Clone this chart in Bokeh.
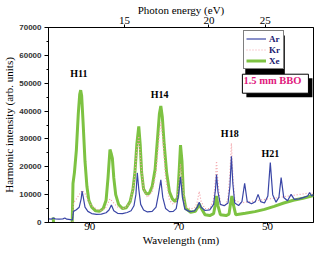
import numpy as np
from bokeh.plotting import figure
from bokeh.models import (Range1d, LinearAxis, FixedTicker, SingleIntervalTicker,
                          Legend, LegendItem, Label, BasicTickFormatter)
from bokeh.embed import file_html
from bokeh.resources import INLINE

NaN = float("nan")

# ---- data (wavelength in nm, intensity in arb. units) ----
ar_wl = [99.29, 98.64, 98.21, 97.78, 96.91, 96.05, 95.61, 95.18, 94.32, 93.89, 93.67, 93.02, 92.38, 91.94,
         91.73, 91.51, 91.08, 90.43, 89.57, 88.49, 87.41, 86.33, 85.68, 85.14, 84.60, 83.74, 82.66, 81.58,
         80.71, 80.06, 79.63, 79.31, 78.98, 78.55, 77.90, 77.04, 75.96, 75.10, 74.56, 74.02, 73.58, 72.94,
         72.07, 71.21, 70.56, 70.02, 69.59, 69.16, 68.62, 67.53, 66.45, 65.81, 65.38, 64.95, 64.08, 63.01,
         62.14, 61.71, 61.49, 61.16, 60.62, 59.76, 58.90, 58.47, 58.14, 57.82, 57.39, 56.52, 55.77, 55.16,
         54.58, 53.61, 52.74, 52.14, 51.56, 50.69, 49.94, 49.39, 48.85, 48.10, 47.45, 46.95, 46.37, 45.51,
         44.71, 43.99, 42.92, 41.84, 40.97, 40.54, 40.10, 39.67]
ar_int = [1300, 1200, 1600, 1300, 1200, 1300, 1600, 1200, 1000, 900, 4000, 4600, 5500, 8500,
          11300, 9500, 5500, 4000, 3200, 2900, 3000, 3500, 4500, 6300, 4200, 3300, 3200, 3600,
          4200, 6000, 10000, 17800, 12000, 6500, 4500, 3800, 4000, 5500, 10000, 15300, 9000, 5000,
          3900, 4000, 5000, 10000, 16400, 9000, 4800, 3900, 4200, 5500, 7300, 5500, 4300, 4500,
          6500, 12000, 17200, 11000, 6500, 6000, 7000, 13000, 23800, 14000, 7000, 6100, 7500, 14100,
          7500, 6700, 7500, 10100, 7500, 7000, 9500, 21500, 10000, 7300, 9000, 16100, 9000, 7800,
          10100, 8300, 8500, 9000, 9500, 10800, 9500, 10100]

kr_wl = [93.89, 93.67, 93.02, 92.38, 91.73, 91.08, 90.43, 89.57, 88.49, 87.41, 86.33, 85.46, 84.60, 83.52,
         82.23, 80.93, 80.06, 79.42, 78.98, 78.55, 77.90, 77.04, 75.96, 75.10, 74.45, 74.02, 73.58, 72.94,
         72.07, 71.21, 70.35, 69.91, 69.59, 69.16, 68.62, 67.32, 66.24, 65.81, 65.38, 64.95, 64.08, 63.01,
         62.14, 61.71, 61.49, 61.16, 60.62, 59.54, 58.90, 58.47, 58.14, 57.82, 57.39, 56.09, 53.93, 51.77,
         49.61, 47.45, 45.29, 43.13, 40.97, 39.67]
kr_int = [0, 7000, 8500, 10000, 11500, 10500, 8000, 6000, 4800, 4200, 5500, 8500, 7000, 5200,
          5000, 7000, 14000, 26000, 31000, 22000, 12000, 9000, 11000, 18000, 30000, 36000, 30000, 16000,
          8000, 6500, 8000, 14000, 21000, 14000, 6000, 4800, 5500, 7500, 11200, 7500, 5000, 5000,
          8000, 16000, 22000, 14000, 6500, 6000, 9000, 18000, 28500, 17000, 8000, 7000, 7500, 8000,
          8500, 9000, 9500, 10000, 10500, 10500]

xe_wl = [98.25, 98.15, NaN, 93.95, 93.78, 93.45, 93.02, 92.59, 92.27, 92.05, 91.83, 91.51, 91.08, 90.65,
         90.22, 89.57, 88.70, 87.84, 86.98, 86.33, 85.90, 85.46, 85.14, 84.92, 84.60, 84.17, 83.52, 82.66,
         81.79, 80.93, 80.28, 79.85, 79.42, 78.98, 78.66, 78.34, 77.90, 77.26, 76.61, 75.96, 75.31, 74.77,
         74.34, 74.02, 73.69, 73.26, 72.72, 72.07, 71.43, 70.78, 70.24, 69.91, 69.59, 69.26, 68.94, 68.40,
         67.32, 66.24, 65.81, 65.38, 64.95, 64.08, 63.01, 62.14, 61.81, 61.49, 61.16, 60.62, 59.33, 58.68,
         58.36, 58.03, 57.71, 57.17, 55.01, 52.85, 50.69, 48.53, 46.37, 44.21, 42.05, 39.67]
xe_int = [1800, 0, NaN, 0, 14000, 18000, 26000, 39000, 46000, 47500, 45500, 36000, 22000, 13000,
          8000, 5500, 4200, 4000, 5000, 8000, 16000, 26200, 24500, 23000, 16000, 10000, 6500, 5000,
          5300, 7500, 12000, 18000, 28000, 34500, 28000, 18000, 12000, 10200, 10500, 13000, 19000, 30000,
          39000, 41800, 38000, 28000, 18000, 11000, 8500, 7500, 9000, 18000, 27800, 22000, 10000, 5000,
          3700, 4000, 5200, 6700, 5200, 2800, 2500, 3200, 6000, 9500, 6000, 2800, 2500, 3000,
          6500, 9500, 6500, 2800, 3300, 3900, 4700, 5800, 7000, 8000, 8700, 9700]

series_names = ["Ar", "Kr", "Xe"]
bottom_ticks = [90, 70, 50]
top_tick_labels = ["15", "20", "25"]
top_tick_wl = [82.2, 63.2, 50.5]          # wavelength positions of the photon-energy ticks
harmonic_labels = ["H11", "H14", "H18", "H21"]
note_text = "1.5 mm BBO"

# ---- layout / styles ----
harm_pos = [(92.44, 53350), (74.27, 45870), (58.51, 32010), (49.35, 24870)]
note_pos = (48.24, 49820)
legend_shadow_box = dict(left=55.02, right=46.12, top=67140, bottom=53210)
SERIF = "Liberation Serif"

p = figure(width=314, height=254, output_backend="svg", toolbar_location=None,
           x_range=Range1d(99.29, 39.67), y_range=Range1d(0, 70000),
           min_border_left=45, min_border_right=1, min_border_top=26, min_border_bottom=32,
           x_axis_label="Wavelength (nm)", y_axis_label="Harmonic intensity (arb. units)")
p.grid.visible = False
p.outline_line_color = "black"
p.outline_line_width = 1
p.background_fill_color = "white"
p.border_fill_color = "white"

# bottom axis
xa = p.xaxis[0]
xa.ticker = FixedTicker(ticks=bottom_ticks, minor_ticks=[])
xa.major_label_text_font = SERIF
xa.major_label_text_font_size = "11px"
xa.major_label_text_color = "black"
xa.major_tick_out = 3
xa.major_tick_in = 0
xa.major_label_standoff = -3
xa.axis_label_standoff = 1
xa.axis_label_text_font = SERIF
xa.axis_label_text_font_size = "11px"
xa.axis_label_text_font_style = "normal"
xa.axis_label_text_color = "black"
xa.axis_line_color = "black"

# left axis
ya = p.yaxis[0]
ya.ticker = SingleIntervalTicker(interval=10000, num_minor_ticks=2)
ya.formatter = BasicTickFormatter(use_scientific=False)
ya.major_label_text_font = "Liberation Sans"
ya.major_label_text_font_style = "bold"
ya.major_label_text_font_size = "8px"
ya.major_label_text_color = "#333333"
ya.major_tick_out = 4
ya.major_tick_in = 0
ya.minor_tick_out = 2
ya.minor_tick_in = 0
ya.major_label_standoff = 3
ya.axis_label_standoff = 1
ya.axis_label_text_font = SERIF
ya.axis_label_text_font_size = "11px"
ya.axis_label_text_font_style = "normal"
ya.axis_label_text_color = "black"

# top axis (photon energy)
top = LinearAxis(ticker=FixedTicker(ticks=top_tick_wl, minor_ticks=[]),
                 major_label_overrides=dict(zip(top_tick_wl, top_tick_labels)),
                 axis_label="Photon energy (eV)")
top.major_label_text_font = SERIF
top.major_label_text_font_size = "11px"
top.major_label_text_color = "black"
top.major_tick_out = 3
top.major_tick_in = 0
top.major_label_standoff = 1
top.axis_label_standoff = -2
top.axis_label_text_font = SERIF
top.axis_label_text_font_size = "11px"
top.axis_label_text_font_style = "normal"
top.axis_label_text_color = "black"
p.add_layout(top, "above")

# legend drop shadow (decoration, drawn beneath the legend)
p.quad(left=[legend_shadow_box["left"]], right=[legend_shadow_box["right"]],
       top=[legend_shadow_box["top"]], bottom=[legend_shadow_box["bottom"]],
       color="black", line_color=None)

r_xe = p.line(xe_wl, xe_int, line_color="#7dc242", line_width=3)
r_kr = p.line(kr_wl, kr_int, line_color="#f2a0a6", line_width=1.2, line_dash="1 2")
r_ar = p.line(ar_wl, ar_int, line_color="#3a46a6", line_width=1.2)

legend = Legend(items=[LegendItem(label=series_names[0], renderers=[r_ar]),
                       LegendItem(label=series_names[1], renderers=[r_kr]),
                       LegendItem(label=series_names[2], renderers=[r_xe])],
                location=(195, 153))
legend.label_text_font = SERIF
legend.label_text_font_style = "bold"
legend.label_text_font_size = "9px"
legend.label_text_color = "#202070"
legend.glyph_width = 20
legend.glyph_height = 11
legend.label_height = 11
legend.label_width = 12
legend.label_standoff = 3
legend.spacing = 0
legend.padding = 2
legend.margin = 0
legend.border_line_color = "black"
legend.border_line_width = 1
legend.background_fill_color = "white"
legend.background_fill_alpha = 1
p.add_layout(legend)

for txt, (lx, ly) in zip(harmonic_labels, harm_pos):
    p.add_layout(Label(x=lx, y=ly, text=txt, text_font=SERIF, text_font_style="bold",
                       text_font_size="10px", text_align="center", text_baseline="middle",
                       text_color="black"))

common = dict(x=note_pos[0], y=note_pos[1], text=note_text, text_font=SERIF, text_font_style="bold",
              text_font_size="10.5px", text_align="center", text_baseline="middle",
              padding=(1, 7, 1, 7))
p.add_layout(Label(**common, text_color="black", background_fill_color="black",
                   x_offset=4, y_offset=-4))
p.add_layout(Label(**common, text_color="#e0197d", background_fill_color="white",
                   border_line_color="black", border_line_width=1))

open("out.html", "w").write(file_html(p, INLINE))
